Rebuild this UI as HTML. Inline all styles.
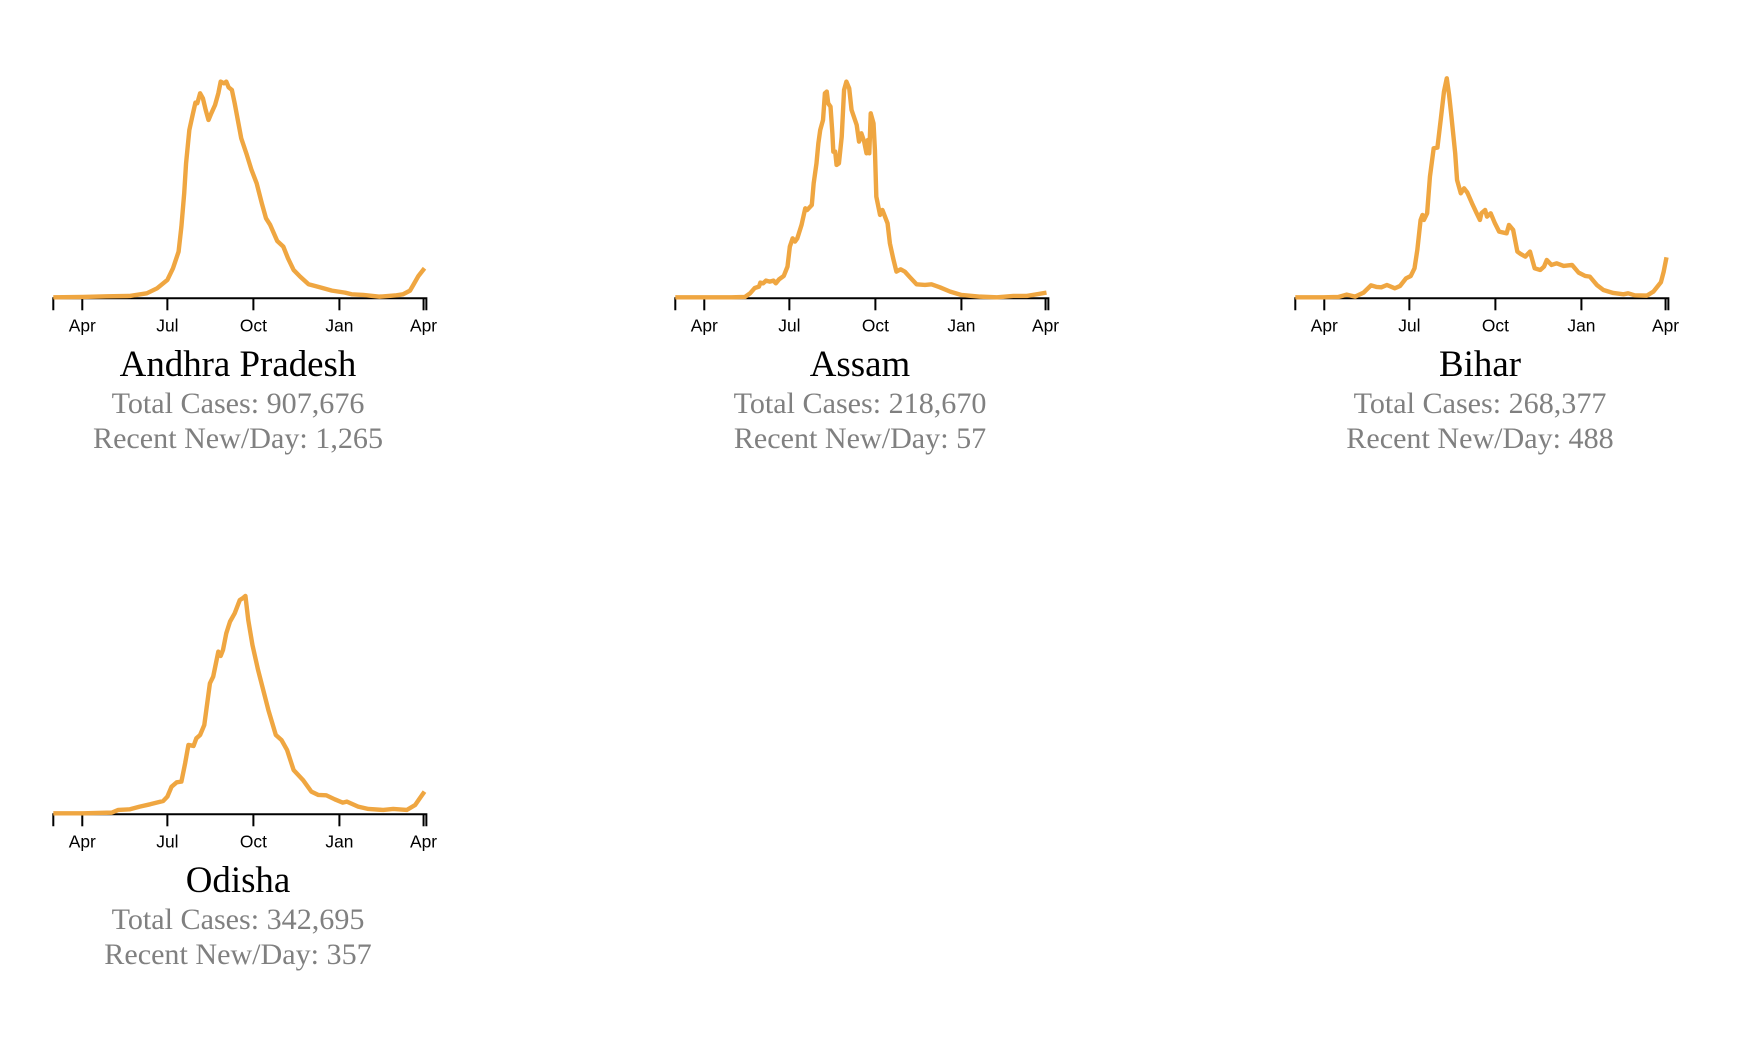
<!DOCTYPE html>
<html lang="en">
<head>
<meta charset="utf-8">
<title>State case trends</title>
<style>
html,body{margin:0;padding:0;background:#fff;}
svg{display:block;}
.title{font-family:"Liberation Serif",serif;font-size:36.9px;fill:#000;text-anchor:middle;}
.sub{font-family:"Liberation Serif",serif;font-size:30.1px;fill:#808080;text-anchor:middle;}
.tick-label{font-family:"Liberation Sans",sans-serif;font-size:17.4px;fill:#000;text-anchor:middle;}
</style>
</head>
<body>
<svg id="chart" width="1760" height="1042" viewBox="0 0 1760 1042" xmlns="http://www.w3.org/2000/svg">
  <g id="panel-ap" transform="translate(0,0)">
    <text class="title" x="238" y="376">Andhra Pradesh</text>
    <text class="sub" x="238" y="413">Total Cases: 907,676</text>
    <text class="sub" x="238" y="448">Recent New/Day: 1,265</text>
  </g>
  <g id="panel-as" transform="translate(622,0)">
    <text class="title" x="238" y="376">Assam</text>
    <text class="sub" x="238" y="413">Total Cases: 218,670</text>
    <text class="sub" x="238" y="448">Recent New/Day: 57</text>
  </g>
  <g id="panel-br" transform="translate(1242,0)">
    <text class="title" x="238" y="376">Bihar</text>
    <text class="sub" x="238" y="413">Total Cases: 268,377</text>
    <text class="sub" x="238" y="448">Recent New/Day: 488</text>
  </g>
  <g id="panel-or" transform="translate(0,516)">
    <text class="title" x="238" y="376">Odisha</text>
    <text class="sub" x="238" y="413">Total Cases: 342,695</text>
    <text class="sub" x="238" y="448">Recent New/Day: 357</text>
  </g>
</svg>
<script>
// Shared time axis: days since 1 Mar 2020
const tickLabels = ['Apr','Jul','Oct','Jan','Apr'];
const tickDays = [31,122,214,306,396];
const domainDays = [0,399];

// Daily new cases (7-day average)
const apDays = [0,32,57,82,100,111,122,128,134,137,140,142,145.5,149,152,154,157,160,163,166,169,173,176.5,179,182.5,185,187.5,191,194,198,201,207,212,217.5,223,227.5,232,239.5,246,251,257,264,273,285,298,312,319,331.5,349,367,374,381.5,385,390.5,397];
const apCases = [0,15,45,60,180,405,780,1305,2055,3180,4680,6030,7530,8205,8760,8730,9180,8955,8430,7980,8280,8655,9180,9705,9630,9705,9450,9330,8730,7830,7155,6405,5730,5130,4230,3555,3255,2535,2280,1755,1230,930,585,450,300,210,135,105,30,90,135,300,555,960,1305];
const apMax = 9810;

const asDays = [0,30,60,74.5,80,85,89.5,91,94,97,101,105,107.5,111,116,120,122.5,125.5,128,130.5,135,139,141,146,148,151,153,155,158,160,162,163.5,166,168,169,171,172.5,175,178,180.5,183,186,188.5,194,196.5,199,202,204.5,206,207.5,209,212,213.5,215,219,221.5,227,229.5,233,236.5,241,245.5,251,258,267,274,283,294,306,326,344,361.5,376,397];
const asCases = [0,0,0,4,48,112,128,176,168,200,188,200,168,216,256,368,608,708,668,708,868,1068,1048,1108,1368,1608,1848,2008,2128,2448,2468,2328,2288,1968,1748,1748,1588,1608,1928,2488,2588,2508,2248,2068,1868,1968,1868,1728,1888,1728,2208,2088,1768,1208,988,1048,888,648,468,308,336,308,240,156,148,156,120,68,28,8,0,16,16,56];
const asMax = 2616;

const brDays = [0,30,46,55,64,73,81,87,92,98,106.5,112,118.5,123.5,127.5,130.5,134,136,137.5,141,144,148,152,155.5,159,162,164.5,167,171,173,177,180.5,184,189,194,197.5,199,203,205,209,213.5,218,226,228.5,233,237.5,241,246,251,256,262,266,269,274,279.5,287,296,303,310,315,322.5,329.5,340,351,356,363,376,383,391,394,397];
const brCases = [0,0,6,48,12,84,216,186,180,222,162,204,342,384,522,852,1392,1482,1392,1512,2172,2682,2694,3192,3702,3942,3642,3252,2592,2112,1872,1962,1884,1692,1512,1392,1512,1572,1452,1512,1332,1182,1152,1302,1212,822,780,732,822,522,492,552,672,582,612,564,582,444,384,372,222,132,78,54,72,36,30,102,270,462,720];
const brMax = 3924;

const orDays = [0,32,62.5,69.5,82,92.5,103.5,117.5,122,126.5,132,137,141,144.5,150,153,157,161.5,167.5,171,176.5,179,181.5,185,189,194,199.5,202.5,205.5,208.5,213,219,224.5,230,238,244,250,257,267,276,283.5,292,301,309.5,314,326,337,353,363.5,378,387,392,397];
const orCases = [0,0,12,60,72,120,162,222,300,480,558,570,900,1230,1212,1350,1410,1590,2340,2460,2910,2832,2940,3240,3450,3600,3840,3870,3912,3480,3030,2580,2220,1860,1410,1320,1140,780,600,390,330,324,252,192,210,120,78,60,78,60,150,270,390];
const orMax = 3924;

const SVG_NS = 'http://www.w3.org/2000/svg';
const AXIS_Y = 298.3;
const BASE_Y = 297.3;
const PLOT_H = 218;

function xScale(day) { return 53.3 + day * 0.935; }

function drawPanel(panelId, prefix, days, cases, yMax) {
  const panel = document.getElementById(panelId);
  const yScale = function (v) { return BASE_Y - (v / yMax) * PLOT_H; };

  const axis = document.createElementNS(SVG_NS, 'g');
  
  
  panel.appendChild(axis);

  const domain = document.createElementNS(SVG_NS, 'path');
  const x0 = xScale(domainDays[0]);
  const x1 = xScale(domainDays[1]);
  domain.setAttribute('d', 'M' + x0 + ',' + (AXIS_Y + 12) + 'V' + AXIS_Y + 'H' + x1 + 'V' + (AXIS_Y + 12));
  domain.setAttribute('fill', 'none');
  domain.setAttribute('stroke', '#000');
  domain.setAttribute('stroke-width', '2');
  
  
  axis.appendChild(domain);

  tickDays.forEach(function (d, i) {
    const tx = xScale(d);
    const tick = document.createElementNS(SVG_NS, 'line');
    tick.setAttribute('x1', tx);
    tick.setAttribute('x2', tx);
    tick.setAttribute('y1', AXIS_Y);
    tick.setAttribute('y2', AXIS_Y + 12);
    tick.setAttribute('stroke', '#000');
    tick.setAttribute('stroke-width', '2');
    
    
    axis.appendChild(tick);

    const label = document.createElementNS(SVG_NS, 'text');
    label.setAttribute('class', 'tick-label');
    label.setAttribute('x', tx);
    label.setAttribute('y', 331.5);
    label.textContent = tickLabels[i];
    
    
    axis.appendChild(label);
  });

  const line = document.createElementNS(SVG_NS, 'path');
  const d = days.map(function (day, i) {
    return (i ? 'L' : 'M') + xScale(day).toFixed(2) + ',' + yScale(cases[i]).toFixed(2);
  }).join('');
  line.setAttribute('d', d);
  line.setAttribute('fill', 'none');
  line.setAttribute('stroke', '#EFA641');
  line.setAttribute('stroke-width', '4.4');
  line.setAttribute('stroke-linejoin', 'round');
  
  
  panel.appendChild(line);
}

drawPanel('panel-ap', 'andhra-pradesh', apDays, apCases, apMax);
drawPanel('panel-as', 'assam', asDays, asCases, asMax);
drawPanel('panel-br', 'bihar', brDays, brCases, brMax);
drawPanel('panel-or', 'odisha', orDays, orCases, orMax);
</script>
</body>
</html>
